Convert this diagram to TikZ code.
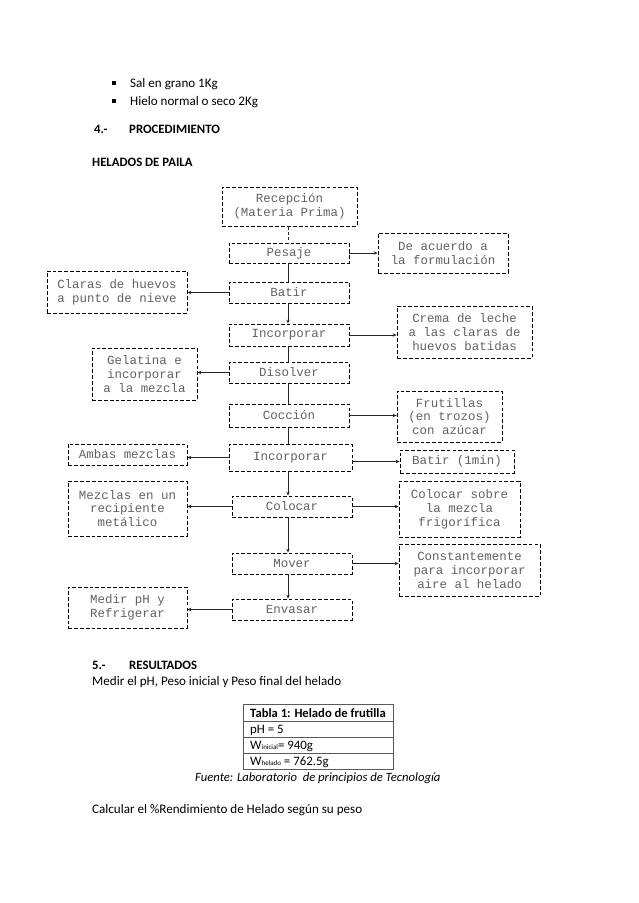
\documentclass[tikz,border=0pt]{standalone}
\usepackage{fontspec}
\setmainfont{Carlito}
\newfontfamily\monof{Liberation Mono}
\usetikzlibrary{arrows.meta}
\def\pxu{0.9326pt}
\tikzset{
  box/.style={draw=black, line width=0.8pt, dash pattern=on 3.6pt off 1.9pt, inner sep=0pt,
    align=center, text=black!62, font=\monof\fontsize{11.6}{13}\selectfont},
  link/.style={draw=black!85, line width=0.8pt},
  arr/.style={link, -{Stealth[length=3.6pt,width=3.2pt]}},
  txt/.style={anchor=base west, inner sep=0pt, font=\fontsize{12.2}{14}\selectfont},
  btxt/.style={txt, font=\bfseries\fontsize{11.9}{14}\selectfont},
  ttxt/.style={txt, font=\fontsize{12}{14}\selectfont},
  tline/.style={draw=black!65, line width=0.9pt}
}
\newcommand\bx[6]{\node[box, minimum width={(#4-#2)*\pxu}, minimum height={(#5-#3)*\pxu}] (#1) at ({(#2+#4)/2},{(#3+#5)/2}) {#6};}
\begin{document}
\begin{tikzpicture}[x=0.9326pt,y=-0.9326pt]
\useasboundingbox (0,0) rectangle (638,903);
% top text
\fill (112,81.5) rectangle (115.5,85) ;
\node[txt] (t1) at (130,88) {Sal en grano 1Kg};
\fill (112,99.5) rectangle (115.5,103);
\node[txt] (t2) at (130,106) {Hielo normal o seco 2Kg};
\node[btxt] (t3) at (94,134) {4.-};
\node[btxt] (t4) at (129,134) {PROCEDIMIENTO};
\node[btxt] (t5) at (92,166) {HELADOS DE PAILA};
% center column
\bx{rec}{222}{187}{357}{226}{Recepción\\(Materia Prima)}
\bx{pes}{229}{243}{349}{263}{Pesaje}
\bx{bat}{229}{282}{349}{303}{Batir}
\bx{inc1}{229}{324}{349}{346}{Incorporar}
\bx{dis}{229}{362}{349}{383}{Disolver}
\bx{coc}{229}{404}{349}{427}{Cocción}
\bx{inc2}{229}{444}{352}{471}{Incorporar}
\bx{col}{232}{496}{352}{517}{Colocar}
\bx{mov}{232}{553}{352}{574}{Mover}
\bx{env}{232}{599}{352}{620}{Envasar}
% left column
\bx{cla}{47}{271}{187}{313}{Claras de huevos\\a punto de nieve}
\bx{gel}{92}{348}{197}{400}{Gelatina e\\incorporar\\a la mezcla}
\bx{amb}{68}{444}{187}{465}{Ambas mezclas}
\bx{mez}{68}{481}{187}{536}{Mezclas en un\\recipiente\\metálico}
\bx{med}{68}{587}{187}{628}{Medir pH y\\Refrigerar}
% right column
\bx{dea}{378}{233}{508}{273}{De acuerdo a\\la formulación}
\bx{cre}{397}{306}{532}{358}{Crema de leche\\a las claras de\\huevos batidas}
\bx{fru}{397}{391}{502}{442}{Frutillas\\(en trozos)\\con azúcar}
\bx{bt1}{400}{450}{514}{473}{Batir (1min)}
\bx{cso}{399}{481}{520}{537}{Colocar sobre\\la mezcla\\frigorífica}
\bx{con}{399}{544}{540}{596}{Constantemente\\para incorporar\\aire al helado}
% vertical connectors
\coordinate (cx) at (288,0);
\draw[link, dash pattern=on 3pt off 2pt] (rec.south -| cx) -- (pes.north -| cx);
\draw[link] (pes.south -| cx) -- (bat.north -| cx);
\draw[arr] (bat.south -| cx) -- (inc1.north -| cx);
\draw[link] (inc1.south -| cx) -- (dis.north -| cx);
\draw[link] (dis.south -| cx) -- (coc.north -| cx);
\draw[link] (coc.south -| cx) -- (inc2.north -| cx);
\draw[arr] (inc2.south -| cx) -- (col.north -| cx);
\draw[arr] (col.south -| cx) -- (mov.north -| cx);
\draw[arr] (mov.south -| cx) -- (env.north -| cx);
% horizontal connectors
\draw[arr] (pes.east) -- (pes.east -| dea.west);
\draw[arr] (bat.west) -- (bat.west -| cla.east);
\draw[arr] (inc1.east) -- (inc1.east -| cre.west);
\draw[arr] (dis.west) -- (dis.west -| gel.east);
\draw[arr] (coc.east) -- (coc.east -| fru.west);
\draw[arr] (inc2.west) -- (inc2.west -| amb.east);
\draw[arr] (bt1.west -| inc2.east) -- (bt1.west);
\draw[arr] (col.west) -- (col.west -| mez.east);
\draw[arr] (col.east) -- (col.east -| cso.west);
\draw[arr] (mov.east) -- (mov.east -| con.west);
\draw[arr] (env.west) -- (env.west -| med.east);
% results
\node[btxt] (r1) at (92,669) {5.-};
\node[btxt] (r2) at (129,669) {RESULTADOS};
\node[txt] (r3) at (92,685) {Medir el pH, Peso inicial y Peso final del helado};
\draw[tline] (243,704) rectangle (393,769);
\draw[tline] (243,721) -- (393,721);
\draw[tline] (243,737) -- (393,737);
\draw[tline] (243,753) -- (393,753);
\node[txt,font=\bfseries\fontsize{11.8}{14}\selectfont] (c1) at (250,717.5) {Tabla 1: Helado de frutilla};
\node[ttxt] (c2) at (250,733.5) {pH = 5};
\node[ttxt] (c3) at (250,749.5) {W{\fontsize{6.5}{7}\selectfont inicial}= 940g};
\node[ttxt] (c4) at (250,765.5) {W{\fontsize{6.5}{7}\selectfont helado} = 762.5g};
\node[txt,font=\itshape\fontsize{11.8}{14}\selectfont] (cap) at (195,781) {Fuente: Laboratorio \ de principios de Tecnología};
\node[txt] (r4) at (92,813) {Calcular el \%Rendimiento de Helado según su peso};
\end{tikzpicture}
\end{document}
